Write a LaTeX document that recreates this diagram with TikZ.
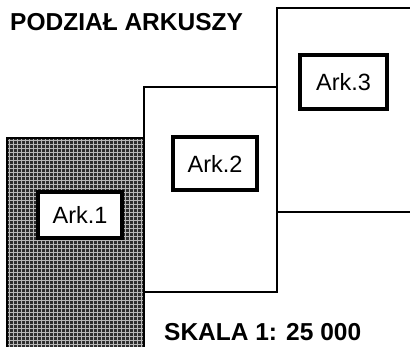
\documentclass[tikz,border=0pt]{standalone}
\usepackage{fontspec}
\setmainfont{Liberation Sans}
\begin{document}
\begin{tikzpicture}[x=1pt,y=-1pt,
  sheet/.style={draw=black,line width=2.8pt,fill=white},
  labelbox/.style={draw=black,line width=3.2pt,fill=white,inner sep=0pt,
    font=\fontsize{23.5}{25}\selectfont},
  heading/.style={inner sep=0pt,anchor=base west,
    font=\fontsize{24.5}{26}\selectfont\bfseries}]
\useasboundingbox (0,0) rectangle (410,346);
% sheet 1 (hatched)
\fill[black!82] (7,138) rectangle (144,360);
\begin{scope}
  \clip (7,138) rectangle (144,360);
  \foreach \i in {0,...,36} {
    \draw[white!72!black,line width=0.8pt] ({9+4*\i},138) -- ({9+4*\i},360);
  }
  \foreach \j in {0,...,56} {
    \draw[white!72!black,line width=0.8pt] (7,{140+4*\j}) -- (144,{140+4*\j});
  }
\end{scope}
\draw[line width=2.8pt] (7,360) -- (7,138) -- (144,138) -- (144,360);
% sheet 2
\draw[sheet] (144,87) rectangle (277,292);
% sheet 3
\draw[sheet] (277,8) rectangle (420,212);
% label boxes
\node[labelbox,minimum width=84pt,minimum height=46pt] (ark1) at (80,215) {Ark.1};
\node[labelbox,minimum width=84pt,minimum height=53pt] (ark2) at (215,163.5) {Ark.2};
\node[labelbox,minimum width=87pt,minimum height=54pt] (ark3) at (343.5,82) {Ark.3};
% texts
\node[heading] (title) at (10,30.5) {PODZIAŁ ARKUSZY};
\node[heading] (scale) at (164,340) {SKALA 1: 25 000};
\end{tikzpicture}
\end{document}
